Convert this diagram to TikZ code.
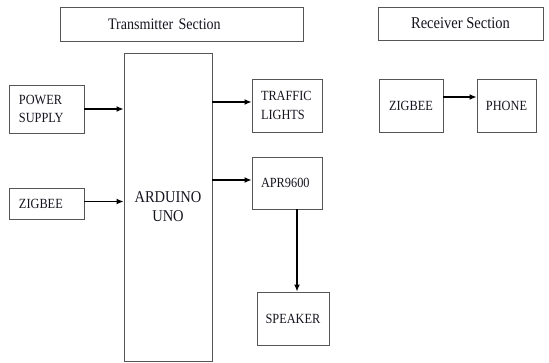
\documentclass[tikz,border=0pt]{standalone}
\usepackage{fontspec}
\setmainfont{Liberation Serif}[FakeStretch=0.88]
\usetikzlibrary{arrows.meta}
\definecolor{edge}{HTML}{555555}
\definecolor{ink}{HTML}{15151F}
\begin{document}
\begin{tikzpicture}[x=1pt,y=-1pt,
  box/.style={draw=edge, line width=0.9pt, text=ink, inner ysep=0pt, font=\fontsize{14}{18}\selectfont},
  conn/.style={line width=1.3pt, -{Latex[length=7pt,width=6pt]}}]
\useasboundingbox (0,0) rectangle (549,362);
% headers
\node[box, minimum width=243, minimum height=34, inner xsep=48, text width=147, align=left,
  font=\fontsize{16}{18}\selectfont] (tx) at (181.5,24) {Transmitter Section};
\node[box, minimum width=165, minimum height=33, align=center,
  font=\fontsize{16.5}{18}\selectfont] (rx) at (460.5,23.5) {Receiver Section};
% transmitter
\node[box, minimum width=88, minimum height=308, align=center,
  font=\fontsize{16.5}{19}\selectfont] (ard) at (168,207) {ARDUINO\\UNO};
\node[box, minimum width=75, minimum height=48, inner xsep=10, text width=55, align=left] (ps) at (46.5,109) {POWER\\SUPPLY};
\node[box, minimum width=75, minimum height=31, inner xsep=10, text width=55, align=left] (zl) at (46.5,203.5) {ZIGBEE};
\node[box, minimum width=70, minimum height=53, inner xsep=9, text width=52, align=left,
  font=\fontsize{14}{19}\selectfont] (tl) at (287,105.5) {TRAFFIC\\LIGHTS};
\node[box, minimum width=70, minimum height=52, inner xsep=9, text width=52, align=left] (apr) at (287,183) {APR9600};
\node[box, minimum width=72, minimum height=53, align=center] (spk) at (293,318.5) {SPEAKER};
% receiver
\node[box, minimum width=64, minimum height=53, align=center] (zr) at (411,105.5) {ZIGBEE};
\node[box, minimum width=59, minimum height=53, align=center] (ph) at (506.5,105.5) {PHONE};
% connectors
\draw[conn] (ps.east) -- (ps.east -| ard.west);
\draw[conn] ([yshift=2pt]zl.east) -- ([yshift=2pt]zl.east -| ard.west);
\draw[conn] ([yshift=3.5pt]tl.west -| ard.east) -- ([yshift=3.5pt]tl.west);
\draw[conn] ([yshift=3pt]apr.west -| ard.east) -- ([yshift=3pt]apr.west);
\draw[conn] ([xshift=4pt]spk.north |- apr.south) -- ([xshift=4pt]spk.north);
\draw[conn] ([yshift=8.5pt]zr.east) -- ([yshift=8.5pt]ph.west);
\end{tikzpicture}
\end{document}
